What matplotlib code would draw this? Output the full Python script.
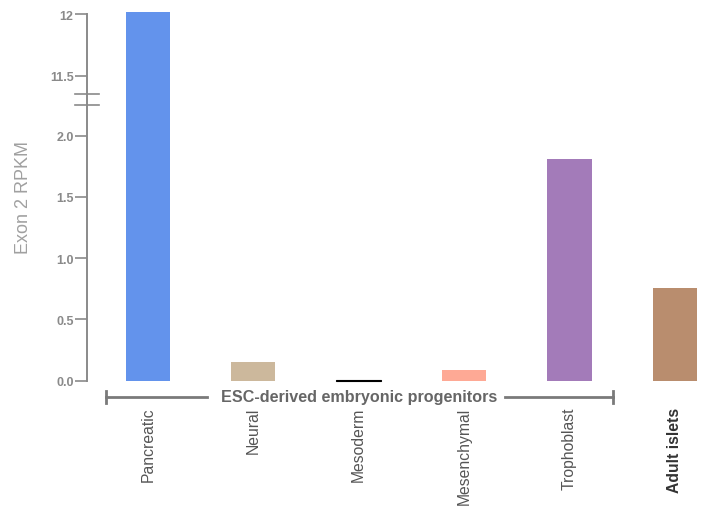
import numpy as np
import matplotlib
matplotlib.use("Agg")
import matplotlib.pyplot as plt
import matplotlib.transforms as mtransforms

plt.rcParams['font.family'] = ['Liberation Sans', 'DejaVu Sans']

# datos
categories = ["Pancreatic", "Neural", "Mesoderm", "Mesenchymal", "Trophoblast", "Adult islets"]
values = [12.02, 0.15, 0.006, 0.087, 1.81, 0.76]
colors = ["#6393ec", "#ccb89c", "#000000", "#fea995", "#a37bb9", "#b98d6e"]
yticks = [0.0, 0.5, 1.0, 1.5, 2.0, 11.5, 12]
yticklabels = ["0.0", "0.5", "1.0", "1.5", "2.0", "11.5", "12"]
group_label = "ESC-derived embryonic progenitors"

# eje y con corte: 2.25 .. 11.35 se comprime
brk_in = [0, 2.25, 11.35, 14]
brk_out = [0, 2.25, 2.34, 4.99]

def forward(y):
    return np.interp(y, brk_in, brk_out)

def inverse(y):
    return np.interp(y, brk_out, brk_in)

fig = plt.figure(figsize=(7.09, 5.10), dpi=100)
ax = fig.add_axes([0.1223, 0.2516, 0.8815, 0.723])
ax.set_yscale('function', functions=(forward, inverse))

x = np.arange(len(categories))
for xi, v, c in zip(x, values, colors):
    ax.bar(xi, v, width=0.42, color=c, edgecolor=c if c != "#000000" else "black",
           linewidth=0.8 if c == "#000000" else 0, clip_on=False)

ax.set_xlim(-0.58, 5.35)
ax.set_ylim(0, 12.02)

for s in ['top', 'right', 'bottom']:
    ax.spines[s].set_visible(False)
ax.spines['left'].set_color('#8a8a8a')
ax.spines['left'].set_linewidth(1.4)
ax.spines['left'].set_bounds(0, 12)

ax.set_yticks(yticks)
ax.set_yticklabels(yticklabels)
ax.tick_params(axis='y', length=8.5, width=1.2, color='#8a8a8a', pad=1,
               labelsize=9, labelcolor='#8a8a8a')
for lab in ax.get_yticklabels():
    lab.set_fontweight('bold')
ax.yaxis.set_minor_locator(matplotlib.ticker.NullLocator())

ax.set_xticks(x)
ax.set_xticklabels(categories, rotation=90, va='top', ha='center')
ax.tick_params(axis='x', length=0, pad=18.5, labelsize=11.3, labelcolor='#555555')
xl = ax.get_xticklabels()
xl[-1].set_fontweight('bold')
xl[-1].set_color('#333333')

ax.set_ylabel("Exon 2 RPKM", fontsize=13, color='#a0a0a0')
ax.yaxis.set_label_coords(-0.088, 0.5)

# marcas de corte
tr_y = mtransforms.blended_transform_factory(ax.transAxes, ax.transData)
for yb in [2.25, 11.35]:
    ax.plot([-0.019, 0.020], [yb, yb], transform=tr_y, color='#8a8a8a',
            lw=1.2, clip_on=False)

# corchete del grupo
tr_x = mtransforms.blended_transform_factory(ax.transData, ax.transAxes)
yb = -0.0442
gc = '#7a7a7a'
ax.plot([-0.40, 0.56], [yb, yb], transform=tr_x, color=gc, lw=2, clip_on=False)
ax.plot([3.39, 4.41], [yb, yb], transform=tr_x, color=gc, lw=2, clip_on=False)
for xe in [-0.40, 4.41]:
    ax.plot([xe, xe], [yb - 0.017, yb + 0.017], transform=tr_x, color=gc,
            lw=2, clip_on=False)
ax.text(2.0, yb, group_label, transform=tr_x, ha='center', va='center',
        fontsize=11.6, fontweight='bold', color='#666666')

fig.savefig("out.png", dpi=100)
